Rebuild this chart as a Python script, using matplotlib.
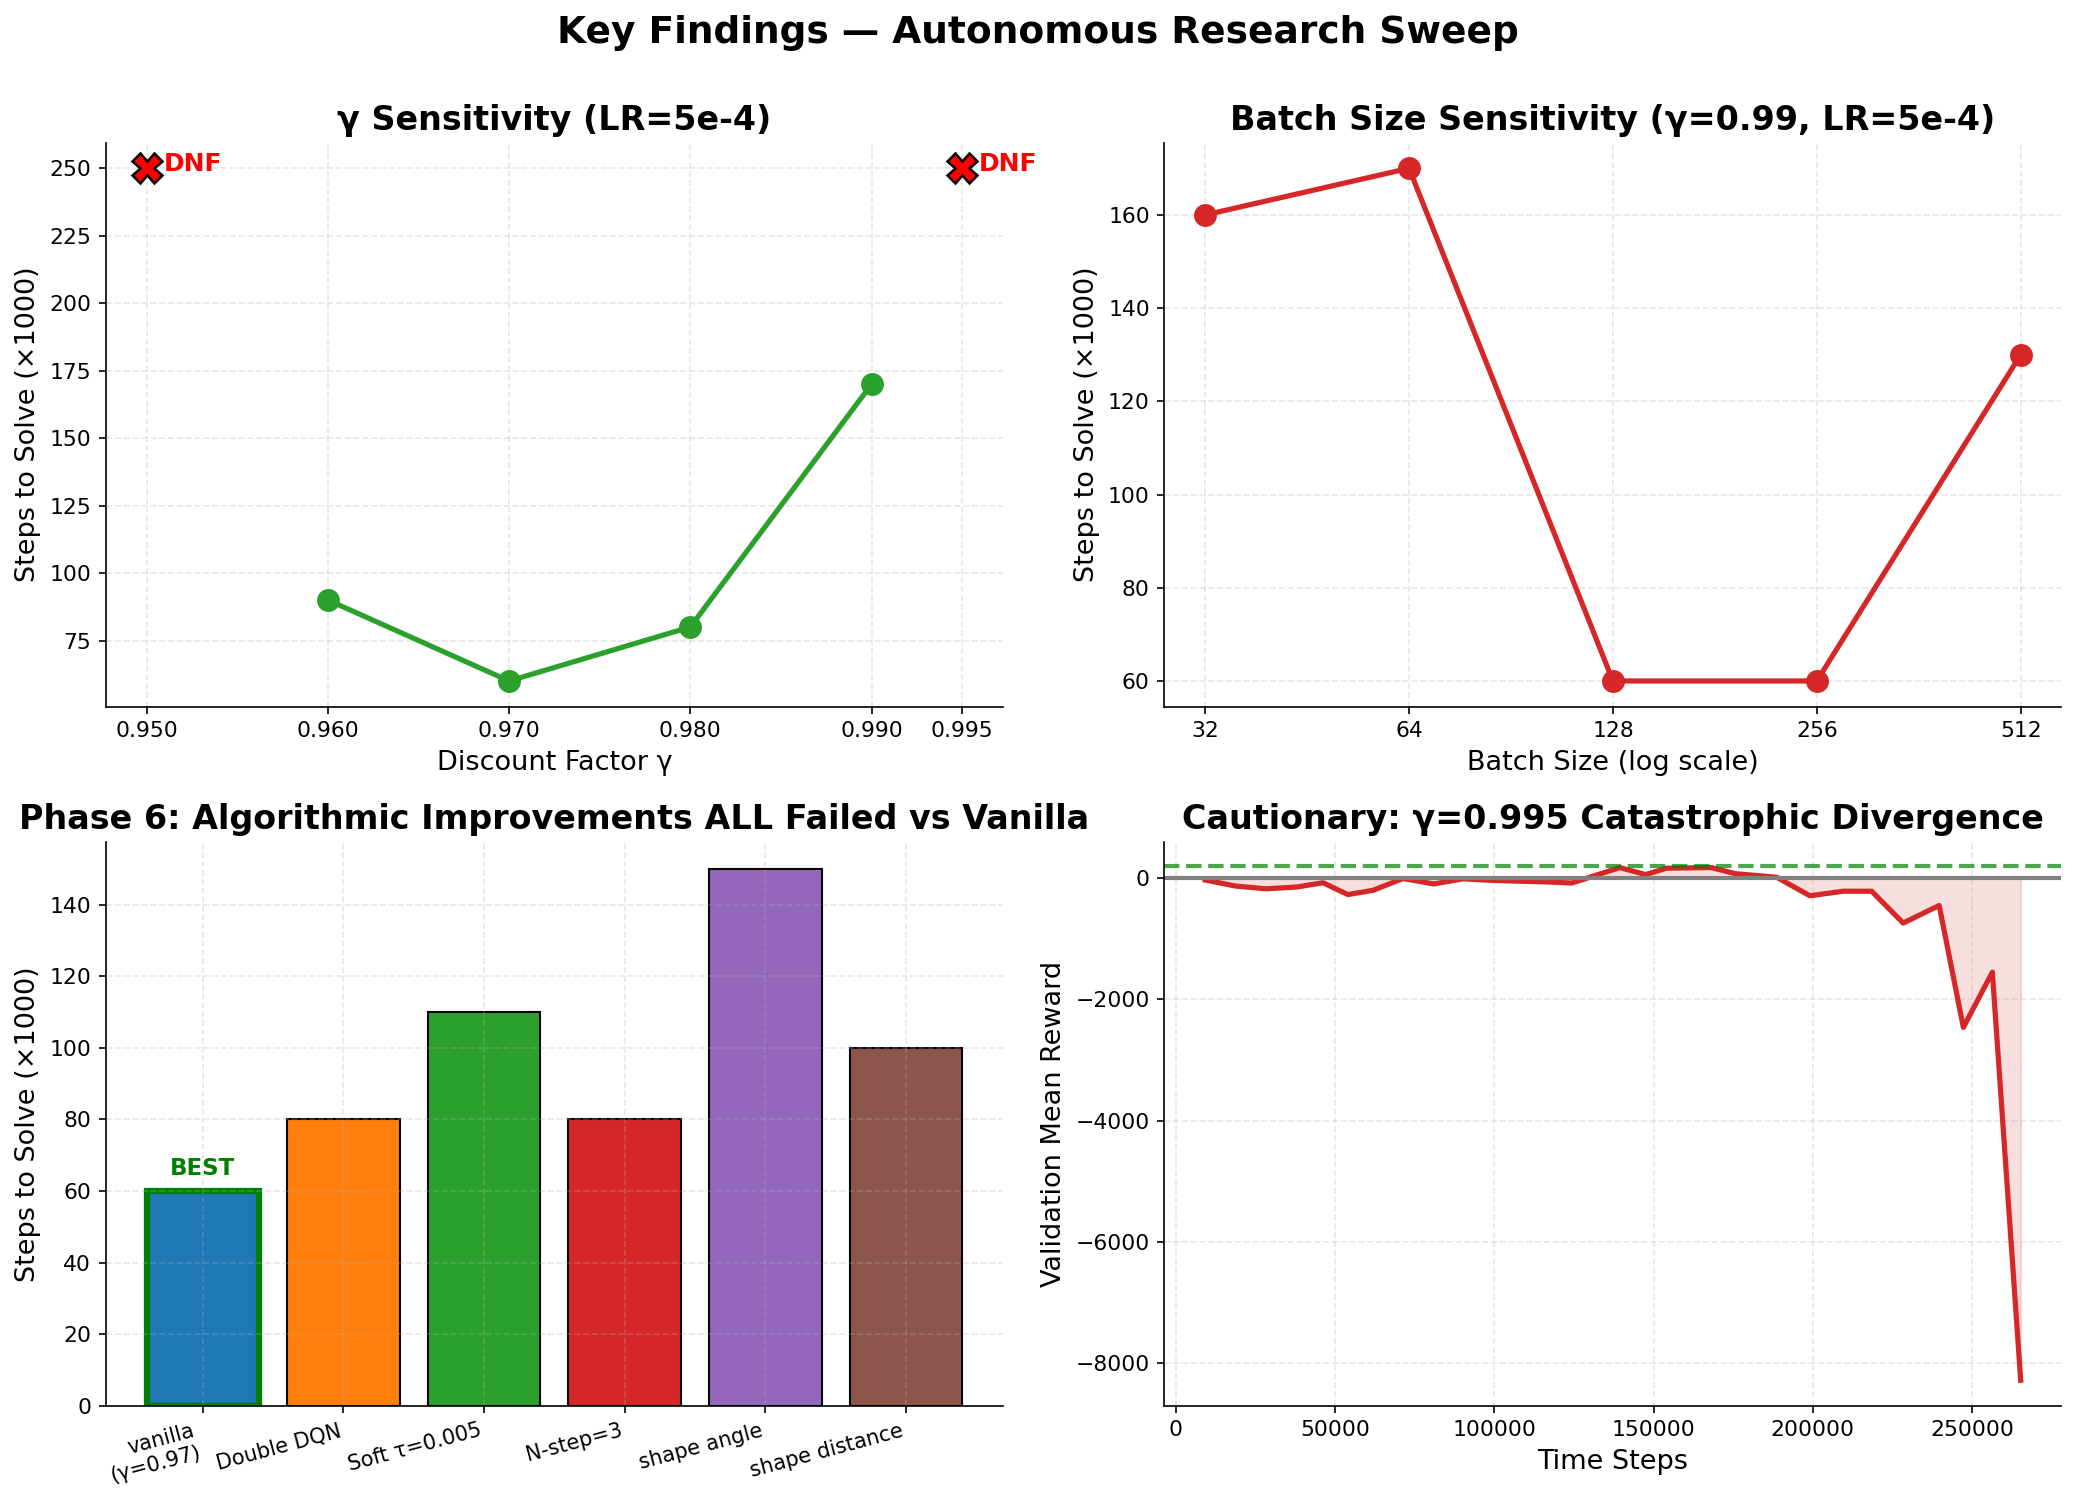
import numpy as np
import matplotlib
matplotlib.use("Agg")
import matplotlib.pyplot as plt

# ---------------- data ----------------
gamma_vals = [0.96, 0.97, 0.98, 0.99]
gamma_steps = [90, 60, 80, 170]
gamma_dnf = [0.95, 0.995]
dnf_level = 250
gamma_ticks = [0.95, 0.96, 0.97, 0.98, 0.99, 0.995]

batch_sizes = [32, 64, 128, 256, 512]
batch_steps = [160, 170, 60, 60, 130]

algo_names = ["vanilla\n(γ=0.97)", "Double DQN", "Soft τ=0.005", "N-step=3",
              "shape angle", "shape distance"]
algo_steps = [60, 80, 110, 80, 150, 100]
algo_colors = ["#1f77b4", "#ff7f0e", "#2ca02c", "#d62728", "#9467bd", "#8c564b"]

div_steps = [9200, 18800, 28300, 38000, 46200, 54000, 61900, 71300, 81000, 90100,
             99000, 108000, 116000, 124300, 139400, 147500, 154100, 161000,
             168200, 175600, 188700, 199100, 209600, 218500, 228400, 239700,
             247300, 256400, 265300]
div_reward = [-30, -130, -175, -145, -75, -270, -200, -5, -95, -10,
              -35, -50, -60, -80, 175, 60, 165, 170,
              175, 75, 15, -290, -215, -215, -740, -450,
              -2460, -1550, -8280]
solve_threshold = 200

# ---------------- style ----------------
plt.rcParams.update({
    "font.size": 11,
    "axes.titlesize": 16,
    "axes.titleweight": "bold",
    "axes.labelsize": 13,
    "xtick.labelsize": 10.5,
    "ytick.labelsize": 10.5,
})

fig, axes = plt.subplots(2, 2, figsize=(2076 / 150, 1502 / 150), dpi=150)
fig.subplots_adjust(left=0.051, right=0.993, top=0.905, bottom=0.064,
                    wspace=0.18, hspace=0.24)
fig.suptitle("Key Findings — Autonomous Research Sweep", fontsize=18,
             fontweight="bold", y=0.99)

for ax in axes.flat:
    ax.spines["top"].set_visible(False)
    ax.spines["right"].set_visible(False)
    ax.grid(True, linestyle="--", alpha=0.3)

# Top-left: gamma sensitivity
ax = axes[0, 0]
ax.plot(gamma_vals, gamma_steps, "-o", color="#2ca02c", lw=2.5, ms=10)
for g in gamma_dnf:
    ax.plot([g], [dnf_level], marker="X", color="red", mec="black", mew=1.2,
            ms=14, ls="none")
    ax.annotate("DNF", (g, dnf_level), xytext=(8, -3.5), textcoords="offset points",
                color="red", fontweight="bold", fontsize=12, ha="left", va="bottom")
ax.set_xticks(gamma_ticks)
ax.set_xticklabels([f"{t:.3f}" for t in gamma_ticks])
ax.set_xlabel("Discount Factor γ")
ax.set_ylabel("Steps to Solve (×1000)")
ax.set_title("γ Sensitivity (LR=5e-4)")

# Top-right: batch size
ax = axes[0, 1]
ax.plot(batch_sizes, batch_steps, "-o", color="#d62728", lw=2.5, ms=10)
ax.set_xscale("log", base=2)
ax.set_xticks(batch_sizes)
ax.set_xticklabels([str(b) for b in batch_sizes])
ax.minorticks_off()
ax.set_xlabel("Batch Size (log scale)")
ax.set_ylabel("Steps to Solve (×1000)")
ax.set_title("Batch Size Sensitivity (γ=0.99, LR=5e-4)")

# Bottom-left: bars
ax = axes[1, 0]
xpos = np.arange(len(algo_names))
bars = ax.bar(xpos, algo_steps, color=algo_colors, edgecolor="black", linewidth=1)
bars[0].set_edgecolor("green")
bars[0].set_linewidth(3)
ax.text(xpos[0], algo_steps[0] + 3, "BEST", color="green", fontweight="bold",
        ha="center", va="bottom", fontsize=11)
ax.set_xticks(xpos)
ax.set_xticklabels(algo_names, rotation=15, ha="right", fontsize=10)
ax.set_ylabel("Steps to Solve (×1000)")
ax.set_title("Phase 6: Algorithmic Improvements ALL Failed vs Vanilla")

# Bottom-right: divergence
ax = axes[1, 1]
ax.plot(div_steps, div_reward, color="#d62728", lw=2.5)
ax.fill_between(div_steps, div_reward, 0, color="#d62728", alpha=0.15)
ax.axhline(0, color="gray", lw=2)
ax.axhline(solve_threshold, color="green", ls="--", lw=2, alpha=0.7)
ax.set_xlabel("Time Steps")
ax.set_ylabel("Validation Mean Reward")
ax.set_title("Cautionary: γ=0.995 Catastrophic Divergence")

fig.savefig("out.png", dpi=150)
